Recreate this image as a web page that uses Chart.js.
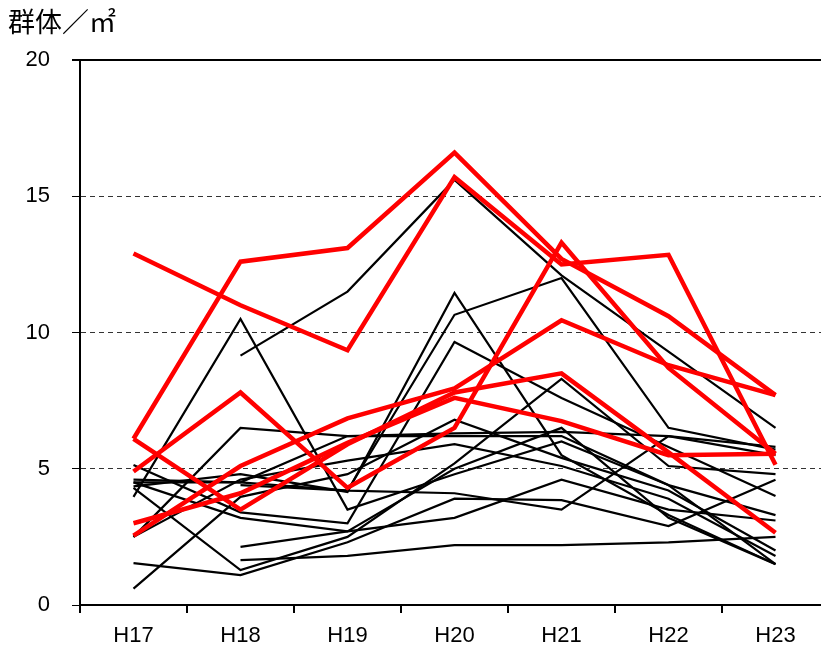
<!DOCTYPE html>
<html>
<head>
<meta charset="utf-8">
<script src="https://cdn.jsdelivr.net/npm/chart.js@4"></script>
<style>
  html, body { margin: 0; padding: 0; background: #fff; overflow: hidden; }
  #wrap { position: relative; width: 840px; height: 655px; }
</style>
</head>
<body>
<div id="wrap"><canvas id="chart" width="840" height="655"></canvas></div>
<script>
// categorias e eixo
const categorias = ["H17", "H18", "H19", "H20", "H21", "H22", "H23"];
const yTicks = [0, 5, 10, 15, 20];
const tituloEixo = "群体／㎡";

// linhas vermelhas (grossas)
const vermelhas = [
  [12.9, 11.0, 9.35, 15.7, 12.5, 12.85, 5.15],
  [6.1, 12.6, 13.1, 16.6, 12.7, 10.6, 7.7],
  [6.1, 3.5, 5.9, 7.8, 8.5, 5.6, 2.65],
  [4.9, 7.8, 4.3, 6.5, 13.3, 8.7, 5.55],
  [3.0, 4.1, 5.95, 7.6, 6.75, 5.5, 5.55],
  [2.55, 5.1, 6.85, 7.95, 10.45, 8.8, 7.7]
];

// linhas pretas (finas)
const pretas = [
  [null, 9.15, 11.5, 15.6, 12.1, 9.3, 6.5],
  [3.97, 10.5, 3.5, 4.8, 6.0, 4.4, 1.5],
  [4.6, 4.5, 4.2, 10.65, 12.0, 6.5, 5.7],
  [4.35, 4.8, 4.15, 11.45, 5.5, 3.3, 1.5],
  [5.14, 3.4, 3.0, 9.65, 7.6, 5.8, 4.0],
  [2.5, 6.5, 6.2, 6.3, 6.35, 6.2, 5.5],
  [4.3, 1.28, 2.5, 5.2, 8.3, 5.1, 4.8],
  [1.54, 1.1, 2.3, 3.9, 3.85, 2.9, 4.6],
  [null, 2.13, 2.7, 3.2, 4.6, 3.5, 3.1],
  [null, 1.65, 1.8, 2.2, 2.2, 2.3, 2.5],
  [0.6, 3.97, 4.8, 6.8, 5.4, 4.2, 2.0],
  [2.5, 4.6, 5.3, 5.9, 5.1, 3.9, 1.8],
  [4.5, 3.2, 2.7, 5.0, 6.5, 3.2, 1.5],
  [null, 4.4, 4.2, 4.1, 3.5, 6.2, 5.8],
  [4.5, 4.5, 6.2, 6.2, 6.2, 4.4, 3.3]
];

const datasets = [];
pretas.forEach(v => {
  datasets.push({
    data: v, borderColor: "#000", borderWidth: 2.2,
    pointRadius: 0, tension: 0, order: 1, spanGaps: false
  });
});
vermelhas.forEach(v => {
  datasets.push({
    data: v, borderColor: "#ff0000", borderWidth: 4.5,
    pointRadius: 0, tension: 0, order: 0, borderJoinStyle: "miter"
  });
});

// título e linha superior
const extras = {
  id: "extras",
  afterDraw(chart) {
    const c = chart.ctx;
    const a = chart.chartArea;
    c.save();
    c.strokeStyle = "#000";
    c.lineWidth = 2;
    c.beginPath();
    c.moveTo(a.left - 8, a.top);
    c.lineTo(a.right + 10, a.top);
    c.stroke();
    c.fillStyle = "#000";
    c.font = "27px 'Noto Sans CJK JP'";
    c.textBaseline = "middle";
    c.fillText(tituloEixo, 8, 22);
    c.restore();
  }
};

const fonte = { family: "'Liberation Sans', sans-serif", size: 22 };

new Chart(document.getElementById("chart"), {
  type: "line",
  data: { labels: categorias, datasets: datasets },
  plugins: [extras],
  options: {
    responsive: false,
    animation: false,
    layout: { padding: { top: 60, right: 11, left: 0, bottom: 0 } },
    plugins: { legend: { display: false }, tooltip: { enabled: false } },
    scales: {
      x: {
        offset: true,
        grid: { display: true, drawOnChartArea: false, offset: true, tickLength: 8, color: "#000", lineWidth: 2 },
        border: { color: "#000", width: 2 },
        ticks: { color: "#000", font: fonte, padding: 10 },
        afterFit: s => { s.height = 50; }
      },
      y: {
        min: 0, max: 20,
        afterBuildTicks: s => { s.ticks = yTicks.map(v => ({ value: v })); },
        grid: {
          color: ctx => (ctx.tick && (ctx.tick.value === 0 || ctx.tick.value === 20)) ? "rgba(0,0,0,0)" : "#333",
          tickColor: "#000", tickLength: 8, lineWidth: 1
        },
        border: { color: "#000", width: 2, dash: [5, 4] },
        ticks: { color: "#000", font: fonte, padding: 22 },
        afterFit: s => { s.width = 80; }
      }
    }
  }
});
</script>
</body>
</html>
